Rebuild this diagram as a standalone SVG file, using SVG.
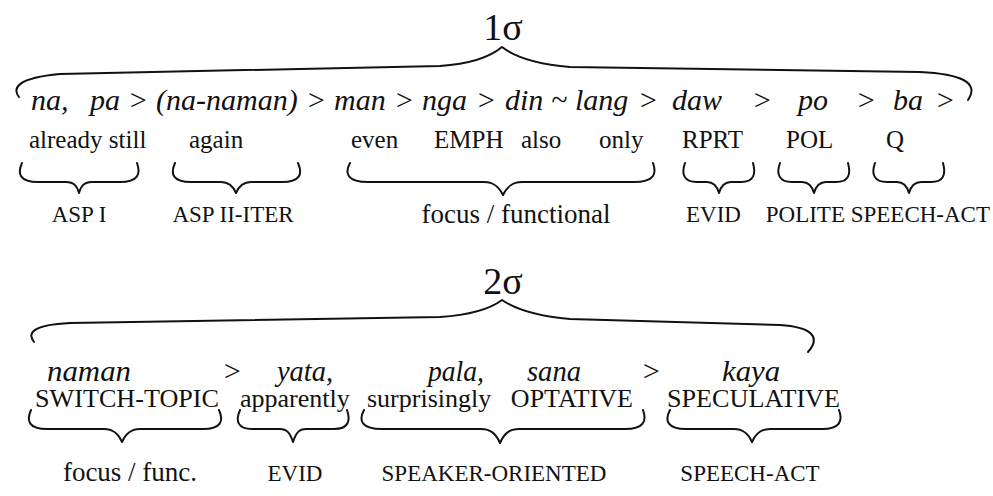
<svg xmlns="http://www.w3.org/2000/svg" width="993" height="496" viewBox="0 0 993 496">
  <style>
    text { font-family: "Liberation Serif", "Times New Roman", serif; fill: #111; }
    .sig { font-size: 38px; text-anchor: middle; }
    .morph { font-size: 30px; font-style: italic; }
    .gloss { font-size: 25px; }
    .gloss2 { font-size: 26px; }
    .cat { font-size: 23px; }
    .catbig { font-size: 27px; }
    .mid { text-anchor: middle; }
    .brace { fill: none; stroke: #111; stroke-width: 2; stroke-linecap: round; stroke-linejoin: round; }
  </style>
  <rect width="993" height="496" fill="#ffffff"/>

  <!-- one-syllable particles -->
  <g id="mono">
    <text class="sig" x="503" y="40">1σ</text>
    <path class="brace" d="M 19 97 C 12 88, 17 78, 60 74 L 440 66 C 470 64, 490 57, 502 47 C 515 57, 535 64, 570 67 L 920 72 C 960 74, 980 82, 968 100"/>

    <g id="mono-forms" class="morph">
      <text x="31" y="110">na,</text>
      <text x="90" y="110">pa</text>
      <text x="128" y="110">&gt;</text>
      <text x="156" y="110">(na-naman)</text>
      <text x="306" y="110">&gt;</text>
      <text x="334" y="110">man</text>
      <text x="394" y="110">&gt;</text>
      <text x="422" y="110">nga</text>
      <text x="476" y="110">&gt;</text>
      <text x="505" y="110">din</text>
      <text x="551" y="110">~</text>
      <text x="575" y="110">lang</text>
      <text x="638" y="110">&gt;</text>
      <text x="672" y="110">daw</text>
      <text x="752" y="110">&gt;</text>
      <text x="798" y="110">po</text>
      <text x="856" y="110">&gt;</text>
      <text x="893" y="110">ba</text>
      <text x="935" y="110">&gt;</text>
    </g>

    <g id="mono-glosses" class="gloss">
      <text x="29" y="148">already still</text>
      <text x="189" y="148">again</text>
      <text x="351" y="148">even</text>
      <text x="434" y="148">EMPH</text>
      <text x="521" y="148">also</text>
      <text x="599" y="148">only</text>
      <text x="682" y="148">RPRT</text>
      <text x="786" y="148">POL</text>
      <text x="886" y="148">Q</text>
    </g>

    <g id="mono-aspI">
      <path class="brace" d="M 22 163 C 17 174, 20 182, 38 182 L 66 182 C 74 182, 77 186, 79 193 C 81 186, 84 182, 92 182 L 120 182 C 138 182, 141 174, 137 163"/>
      <text class="cat mid" x="79" y="222">ASP I</text>
    </g>
    <g id="mono-aspII">
      <path class="brace" d="M 175 163 C 170 174, 173 182, 191 182 L 221 182 C 229 182, 233 186, 236 193 C 239 186, 243 182, 251 182 L 282 182 C 300 182, 303 174, 298 163"/>
      <text class="cat mid" x="233" y="222">ASP II-ITER</text>
    </g>
    <g id="mono-focus">
      <path class="brace" d="M 350 163 C 344 174, 348 182, 368 182 L 484 182 C 494 182, 499 187, 503 195 C 507 187, 512 182, 522 182 L 634 182 C 654 182, 657 174, 653 163"/>
      <text class="catbig mid" x="516" y="223">focus / functional</text>
    </g>
    <g id="mono-evid">
      <path class="brace" d="M 685 163 C 681 174, 684 182, 697 182 L 707 182 C 714 182, 717 186, 719 193 C 721 186, 724 182, 731 182 L 741 182 C 754 182, 756 174, 753 163"/>
      <text class="cat" x="686" y="222">EVID</text>
    </g>
    <g id="mono-polite">
      <path class="brace" d="M 780 163 C 776 174, 779 182, 792 182 L 802 182 C 809 182, 812 186, 814 193 C 816 186, 819 182, 826 182 L 836 182 C 849 182, 851 174, 848 163"/>
    </g>
    <g id="mono-speechact">
      <path class="brace" d="M 875 163 C 871 174, 874 182, 887 182 L 897 182 C 904 182, 907 186, 909 193 C 911 186, 914 182, 921 182 L 931 182 C 944 182, 946 174, 943 163"/>
    </g>
    <text class="cat" x="990" y="222" text-anchor="end">POLITE SPEECH-ACT</text>
  </g>

  <!-- two-syllable particles -->
  <g id="di">
    <text class="sig" x="503" y="294">2σ</text>
    <path class="brace" d="M 34 342 C 27 333, 32 325, 70 323 L 440 317 C 470 315, 490 309, 502 300 C 515 309, 535 316, 570 319 L 780 325 C 810 327, 822 336, 808 352"/>

    <g id="di-forms" class="morph">
      <text x="47" y="381" textLength="84" lengthAdjust="spacingAndGlyphs">naman</text>
      <text x="222" y="381">&gt;</text>
      <text x="277" y="381" textLength="56" lengthAdjust="spacingAndGlyphs">yata,</text>
      <text x="428" y="381" textLength="56" lengthAdjust="spacingAndGlyphs">pala,</text>
      <text x="527" y="381" textLength="54" lengthAdjust="spacingAndGlyphs">sana</text>
      <text x="641" y="381">&gt;</text>
      <text x="722" y="381" textLength="58" lengthAdjust="spacingAndGlyphs">kaya</text>
    </g>

    <g id="di-glosses" class="gloss2">
      <text x="35" y="407" textLength="184" lengthAdjust="spacingAndGlyphs">SWITCH-TOPIC</text>
      <text x="240" y="407">apparently</text>
      <text x="367" y="407">surprisingly</text>
      <text x="633" y="407" text-anchor="end">OPTATIVE</text>
      <text x="667" y="407" textLength="173" lengthAdjust="spacingAndGlyphs">SPECULATIVE</text>
    </g>

    <g id="di-focus">
      <path class="brace" d="M 31 410 C 26 421, 29 429, 47 429 L 104 429 C 113 429, 118 433, 122 442 C 126 433, 131 429, 140 429 L 203 429 C 221 429, 224 421, 219 410"/>
      <text class="catbig mid" x="130" y="481">focus / func.</text>
    </g>
    <g id="di-evid">
      <path class="brace" d="M 240 410 C 235 421, 238 429, 252 429 L 280 429 C 287 429, 290 433, 293 442 C 296 433, 299 429, 306 429 L 334 429 C 348 429, 351 421, 347 410"/>
      <text class="cat mid" x="295" y="481">EVID</text>
    </g>
    <g id="di-speaker">
      <path class="brace" d="M 364 410 C 358 421, 362 429, 382 429 L 481 429 C 491 429, 496 434, 500 443 C 504 434, 509 429, 519 429 L 625 429 C 644 429, 647 421, 643 410"/>
      <text class="cat mid" x="494" y="481">SPEAKER-ORIENTED</text>
    </g>
    <g id="di-speechact">
      <path class="brace" d="M 670 410 C 664 421, 668 429, 686 429 L 734 429 C 743 429, 748 433, 752 442 C 756 433, 761 429, 770 429 L 822 429 C 840 429, 843 421, 839 410"/>
      <text class="cat mid" x="750" y="481">SPEECH-ACT</text>
    </g>
  </g>
</svg>
